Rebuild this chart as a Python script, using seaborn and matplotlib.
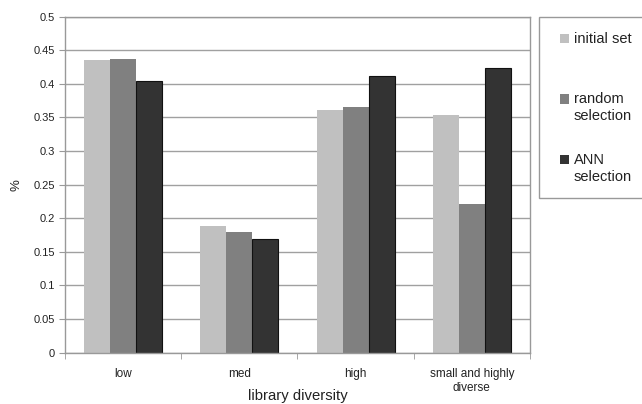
import matplotlib
matplotlib.use("Agg")
import matplotlib.pyplot as plt
import seaborn as sns
import pandas as pd
import numpy as np
from matplotlib.patches import Patch

categories = ["low", "med", "high", "small and highly\ndiverse"]
series = ["initial set", "random selection", "ANN selection"]
legend_labels = ["initial set\n ", "random\nselection", "ANN\nselection"]
initial_set = [0.435, 0.188, 0.361, 0.354]
random_sel = [0.437, 0.179, 0.366, 0.221]
ann_sel = [0.404, 0.169, 0.412, 0.424]
colors = ["#c0c0c0", "#808080", "#333333"]
yticks = [0, 0.05, 0.1, 0.15, 0.2, 0.25, 0.3, 0.35, 0.4, 0.45, 0.5]
ytick_labels = ["0", "0.05", "0.1", "0.15", "0.2", "0.25", "0.3", "0.35", "0.4", "0.45", "0.5"]

df = pd.DataFrame({
    "category": categories * 3,
    "series": [series[0]] * 4 + [series[1]] * 4 + [series[2]] * 4,
    "value": initial_set + random_sel + ann_sel,
})

sns.set_style("white")
plt.rcParams["font.family"] = ["Liberation Sans", "DejaVu Sans"]

fig = plt.figure(figsize=(6.42, 4.04), dpi=100)
ax = fig.add_axes([0.1012, 0.127, 0.7243, 0.8317])

sns.barplot(data=df, x="category", y="value", hue="series", order=categories,
            hue_order=series, palette=colors, width=0.67, ax=ax,
            edgecolor="none", linewidth=0, legend=False, saturation=1)
for bar in ax.containers[2]:
    bar.set_edgecolor("#111111")
    bar.set_linewidth(0.8)

ax.set_ylim(0, 0.5)
ax.set_xlim(-0.5, 3.5)
ax.set_yticks(yticks)
ax.set_yticklabels(ytick_labels, fontsize=8, color="#222222")
ax.tick_params(axis="x", length=0, labelsize=8.5, labelcolor="#222222", pad=11)
ax.set_xticks(np.arange(-0.5, 4.0, 1.0), minor=True)
ax.tick_params(axis="x", which="minor", length=4, color="#999999", direction="out", bottom=True)
ax.tick_params(axis="y", length=4, color="#999999", direction="out", left=True, pad=3)
ax.yaxis.grid(True, color="#a0a0a0", linewidth=1.0)
ax.set_axisbelow(True)
for s in ax.spines.values():
    s.set_color("#999999")
    s.set_linewidth(1.0)

ax.set_ylabel("%", fontsize=9.5, color="#222222")
ax.yaxis.set_label_coords(-0.092, 0.5)
ax.set_xlabel("library diversity", fontsize=10.7, color="#222222")
ax.xaxis.set_label_coords(0.501, -0.108)

fs = 10.5
handles = [Patch(facecolor=c, edgecolor="none") for c in colors]
leg = fig.legend(handles, legend_labels, loc="upper left",
                 bbox_to_anchor=(539 / 642, 1 - 17 / 404), borderaxespad=0,
                 frameon=True, fontsize=fs, handlelength=0.62, handleheight=0.62,
                 handletextpad=0.78, labelspacing=2.05, borderpad=1.0,
                 fancybox=False, framealpha=1)
leg.get_frame().set_edgecolor("#999999")
leg.get_frame().set_linewidth(1.0)
for t in leg.get_texts():
    t.set_color("#222222")
    t.set_linespacing(1.25)
for h in leg.legend_handles:
    h.set_y(h.get_y() + fs * 0.62)
    h.set_x(h.get_x() + 4.3)

fig.savefig("out.png", dpi=100)
